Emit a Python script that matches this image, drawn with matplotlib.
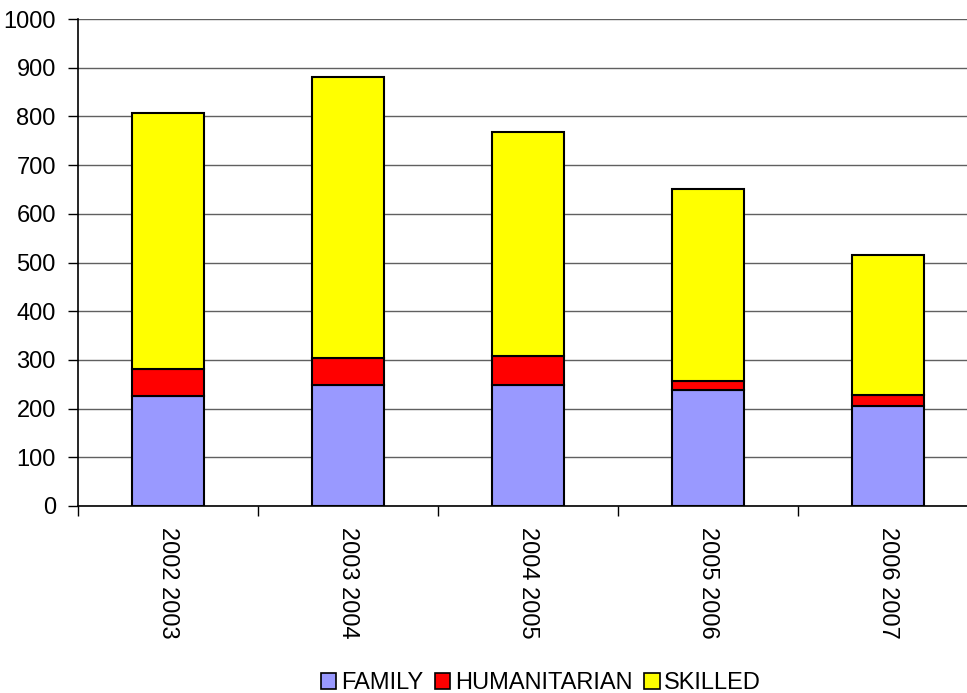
import matplotlib
matplotlib.use("Agg")
import matplotlib.pyplot as plt
from matplotlib.patches import Patch
import numpy as np

plt.rcParams["font.family"] = ["Liberation Sans", "DejaVu Sans"]

YEARS = ["2002 2003", "2003 2004", "2004 2005", "2005 2006", "2006 2007"]
FAMILY = [226, 249, 249, 238, 206]
HUMANITARIAN = [55, 54, 58, 19, 21]
SKILLED = [525, 578, 461, 394, 289]

COLORS = {"FAMILY": "#9999FF", "HUMANITARIAN": "#FF0000", "SKILLED": "#FFFF00"}


def main():
    fig = plt.figure(figsize=(9.67, 6.93), dpi=100)
    ax = fig.add_axes([78 / 967, 187 / 693, 900 / 967, 487 / 693])

    x = np.arange(len(YEARS))
    w = 0.405
    fam = np.array(FAMILY)
    hum = np.array(HUMANITARIAN)
    ski = np.array(SKILLED)
    kw = dict(width=w, edgecolor="black", linewidth=1.5, zorder=3)
    ax.bar(x, fam, color=COLORS["FAMILY"], **kw)
    ax.bar(x, hum, bottom=fam, color=COLORS["HUMANITARIAN"], **kw)
    ax.bar(x, ski, bottom=fam + hum, color=COLORS["SKILLED"], **kw)

    ax.set_xlim(-0.5, len(YEARS) - 0.5)
    ax.set_ylim(0, 1000)
    ax.set_yticks(np.arange(0, 1001, 100))
    ax.yaxis.grid(True, color="#606060", linewidth=1.0, zorder=0)
    ax.tick_params(axis="y", direction="out", length=7, width=1,
                   labelsize=17, pad=9)

    # category boundaries as major ticks, labels on minor ticks
    ax.set_xticks(np.arange(-0.5, len(YEARS), 1.0))
    ax.set_xticklabels([])
    ax.tick_params(axis="x", which="major", direction="out", length=7, width=1)
    ax.set_xticks(x, minor=True)
    ax.set_xticklabels(YEARS, minor=True, rotation=-90, fontsize=17)
    ax.tick_params(axis="x", which="minor", length=0, pad=15)

    for s in ["top", "right"]:
        ax.spines[s].set_visible(False)
    ax.spines["left"].set_linewidth(1.2)
    ax.spines["bottom"].set_linewidth(1.2)

    handles = [Patch(facecolor=c, edgecolor="black", linewidth=1.2, label=k)
               for k, c in COLORS.items()]
    fig.legend(handles=handles, loc="center", bbox_to_anchor=(541 / 967, 1 - 683 / 693),
               ncol=3, frameon=False, fontsize=17, handlelength=0.65,
               handleheight=0.65, handletextpad=0.2, columnspacing=0.5)

    fig.savefig("out.png", dpi=100)


if __name__ == "__main__":
    main()
